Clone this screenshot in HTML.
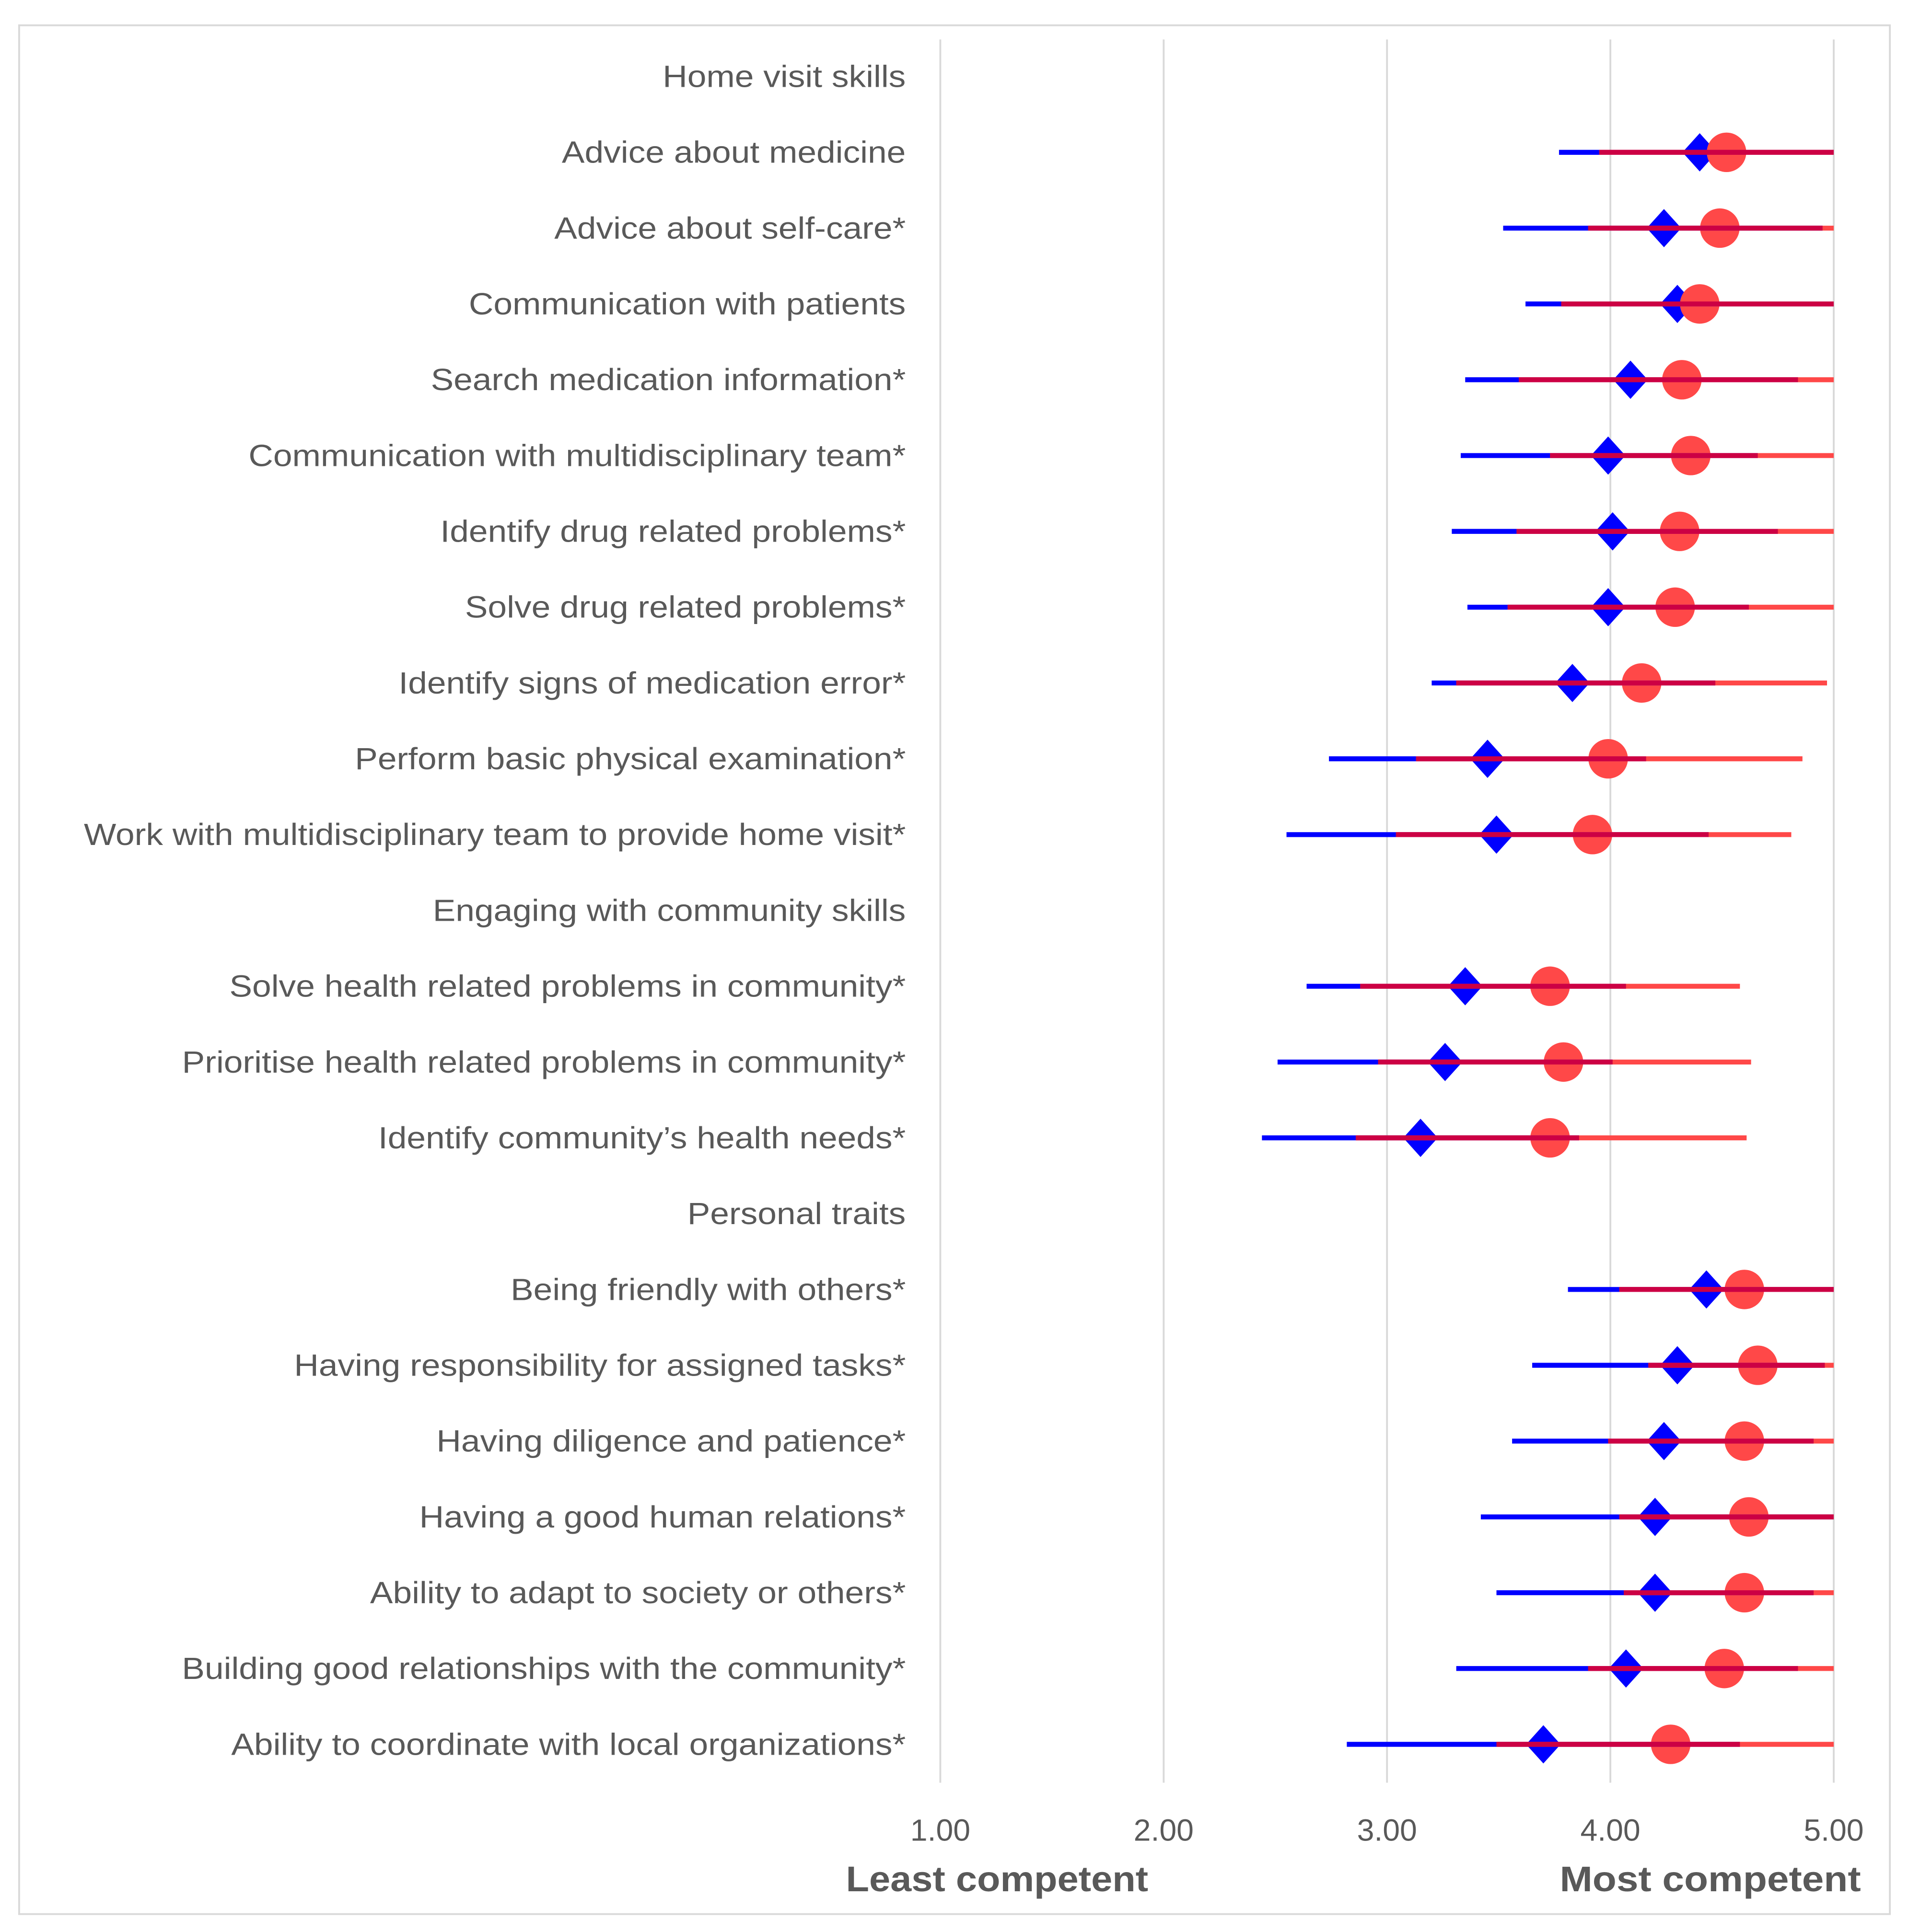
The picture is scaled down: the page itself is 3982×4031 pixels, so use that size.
<!DOCTYPE html>
<html><head><meta charset="utf-8"><style>
html,body{margin:0;padding:0;background:#fff;}
svg{display:block;}
text{font-family:"Liberation Sans",sans-serif;fill:#595959;}
</style></head><body>
<svg id="chart" width="3982" height="4031" viewBox="0 0 1547 1566" xmlns="http://www.w3.org/2000/svg">
<rect x="15.5" y="20.5" width="1516" height="1531" fill="#fff" stroke="#d9d9d9" stroke-width="1.5"/>
<g id="grid"></g><g id="labels"></g><g id="marks"></g><g id="ticks"></g>
<text x="808" y="1533" font-size="29" font-weight="bold" text-anchor="middle" textLength="245" lengthAdjust="spacingAndGlyphs">Least competent</text>
<text x="1386" y="1533" font-size="29" font-weight="bold" text-anchor="middle" textLength="244" lengthAdjust="spacingAndGlyphs">Most competent</text>
</svg>
<script>
const categories=["Home visit skills","Advice about medicine","Advice about self-care*","Communication with patients","Search medication information*","Communication with multidisciplinary team*","Identify drug related problems*","Solve drug related problems*","Identify signs of medication error*","Perform basic physical examination*","Work with multidisciplinary team to provide home visit*","Engaging with community skills","Solve health related problems in community*","Prioritise health related problems in community*","Identify community’s health needs*","Personal traits","Being friendly with others*","Having responsibility for assigned tasks*","Having diligence and patience*","Having a good human relations*","Ability to adapt to society or others*","Building good relationships with the community*","Ability to coordinate with local organizations*"];
const blueMean=[null,4.40,4.24,4.30,4.09,3.99,4.01,3.99,3.83,3.45,3.49,null,3.35,3.26,3.15,null,4.43,4.30,4.24,4.20,4.20,4.07,3.70];
const blueLo=[null,3.77,3.52,3.62,3.35,3.33,3.29,3.36,3.20,2.74,2.55,null,2.64,2.51,2.44,null,3.81,3.65,3.56,3.42,3.49,3.31,2.82];
const blueHi=[null,5,4.95,5,4.84,4.66,4.75,4.62,4.47,4.16,4.44,null,4.07,4.01,3.86,null,5,4.96,4.91,5,4.91,4.84,4.58];
const redMean=[null,4.52,4.49,4.40,4.32,4.36,4.31,4.29,4.14,3.99,3.92,null,3.73,3.79,3.73,null,4.60,4.66,4.60,4.62,4.60,4.51,4.27];
const redLo=[null,3.95,3.90,3.78,3.59,3.73,3.58,3.54,3.31,3.13,3.04,null,2.88,2.96,2.86,null,4.04,4.17,3.99,4.04,4.06,3.90,3.49];
const redHi=[null,5,5,5,5,5,5,5,4.97,4.86,4.81,null,4.58,4.63,4.61,null,5,5,5,5,5,5,5];
const tickValues=[1,2,3,4,5];
const tickLabels=["1.00","2.00","3.00","4.00","5.00"];

const NS="http://www.w3.org/2000/svg";
const xS=v=>762+(v-1)*181;
const yS=i=>62+i*61.45;
function mk(tag,parent,attrs){const e=document.createElementNS(NS,tag);for(const k in attrs)e.setAttribute(k,attrs[k]);parent.appendChild(e);return e;}
const grid=document.getElementById('grid'),labels=document.getElementById('labels'),marks=document.getElementById('marks'),ticks=document.getElementById('ticks');
tickValues.forEach((v,i)=>{
  const l=mk('line',grid,{x1:xS(v),x2:xS(v),y1:32,y2:1445,stroke:'#d9d9d9','stroke-width':1.5});
  
  
  const t=mk('text',ticks,{x:xS(v),y:1492,'font-size':25,'text-anchor':'middle'});
  t.textContent=tickLabels[i];
  
  
});
categories.forEach((c,i)=>{
  const t=mk('text',labels,{x:734,y:yS(i)+8.5,'font-size':25,'text-anchor':'end'});
  t.textContent=c;
  
  
  const w=t.getComputedTextLength();
  if(w>0){t.setAttribute('textLength',(w*1.108).toFixed(1));t.setAttribute('lengthAdjust','spacingAndGlyphs');}
  if(blueMean[i]==null)return;
  const y=yS(i);
  const g=mk('g',marks,{});
  
  
  const bx=xS(blueMean[i]);
  const d=mk('polygon',g,{points:`${bx},${y-15.5} ${bx+14},${y} ${bx},${y+15.5} ${bx-14},${y}`,fill:'#0000ff'});
  
  
  const c2=mk('circle',g,{cx:xS(redMean[i]),cy:y,r:16,fill:'#ff4848'});
  
  
  const bl=mk('line',g,{x1:xS(blueLo[i]),x2:xS(blueHi[i]),y1:y,y2:y,stroke:'#0000ff','stroke-width':4});
  
  
  const rl=mk('line',g,{x1:xS(redLo[i]),x2:xS(redHi[i]),y1:y,y2:y,stroke:'#ff4848','stroke-width':4});
  
  
  const oLo=Math.max(blueLo[i],redLo[i]),oHi=Math.min(blueHi[i],redHi[i]);
  if(oHi>oLo){
    const ol=mk('line',g,{x1:xS(oLo),x2:xS(oHi),y1:y,y2:y,stroke:'#cc0044','stroke-width':4});
    
    
  }
});
</script>
</body></html>
